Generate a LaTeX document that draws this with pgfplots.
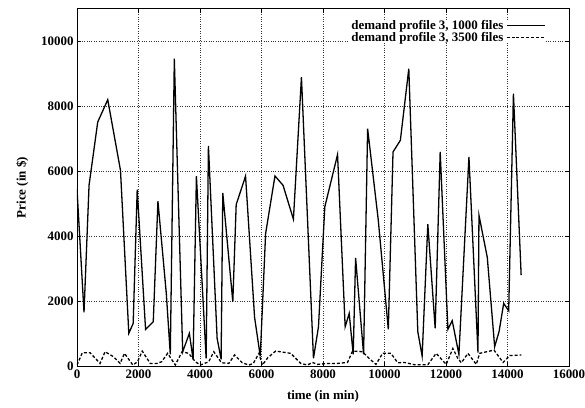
\documentclass[border=0pt]{standalone}
\usepackage{fontspec}
\setmainfont{Liberation Serif}
\usepackage{pgfplots}
\pgfplotsset{compat=1.18}
\begin{document}
\begin{tikzpicture}
\begin{axis}[
  scale only axis,
  width=492bp, height=357bp,
  xmin=0, xmax=16000, ymin=0, ymax=11000,
  xtick={0,2000,...,16000}, ytick={0,2000,...,10000},
  /pgf/number format/assume math mode=true,
  /pgf/number format/1000 sep={},
  scaled ticks=false,
  tick label style={font=\fontsize{13}{14}\selectfont\bfseries},
  label style={font=\fontsize{13}{14}\selectfont\bfseries},
  xlabel={time (in min)}, ylabel={Price (in \$)},
  xlabel style={yshift=-5bp},
  ylabel style={yshift=6bp},
  grid=major,
  major grid style={black!80, dotted, line width=0.5pt},
  axis line style={line width=1pt},
  tick style={black, line width=0.6pt},
  legend style={draw=none, fill=white, at={(0.952,0.969)}, anchor=north east,
    font=\fontsize{13}{14}\selectfont\bfseries, inner sep=0pt, row sep=1.4pt,
    nodes={inner ysep=0pt, inner xsep=2.5pt}},
  legend cell align=right,
  legend plot pos=right,
  legend image code/.code={\draw[#1] (0cm,0cm) -- (38bp,0cm);},
]
\addplot[black, line width=1.3pt] coordinates {
(0,5450) (228,1650) (392,5570) (674,7517) (1000,8205) (1414,6030) (1685,1005) (1827,1313)
(1958,5436) (2230,1128) (2480,1364) (2632,5077) (2904,2236) (3034,359) (3165,9467)
(3437,441) (3654,1005) (3775,205) (3883,5846) (4200,236) (4274,6779) (4557,851)
(4687,205) (4741,5333) (5067,1979) (5177,4974) (5481,5850) (5775,1500) (5960,300)
(6134,4082) (6438,5856) (6700,5569) (7038,4523) (7299,8902) (7690,236) (7853,1210)
(8059,4903) (8473,6513) (8721,1210) (8852,1620) (8982,359) (9060,3333) (9320,359)
(9451,7313) (9798,4492) (10124,1128) (10277,6595) (10516,6954) (10790,9159) (11083,1056)
(11224,308) (11409,4369) (11648,1159) (11811,6595) (12062,1128) (12202,1395) (12420,359)
(12746,6441) (13040,410) (13072,4646) (13343,3344) (13582,595) (13725,1056) (13876,1928)
(14039,1702) (14193,8390) (14444,2800)
};
\addlegendentry{demand profile 3, 1000 files}
\addplot[black, line width=1.3pt, dash pattern=on 3pt off 2pt] coordinates {
(0,30) (174,410) (424,410) (750,80) (913,440) (1185,287) (1403,80) (1544,390) (1816,30)
(1968,130) (2121,460) (2382,80) (2600,80) (2750,130) (2947,390) (3197,30) (3415,440)
(3632,390) (3850,130) (4013,30) (4284,130) (4448,440) (4699,100) (4938,80) (5124,340)
(5374,100) (5591,30) (5733,80) (5917,390) (6026,30) (6200,250) (6460,460) (6949,390)
(7276,80) (7493,30) (7656,110) (7819,50) (8145,80) (8471,80) (8798,110) (8961,460)
(9287,440) (9504,230) (9722,50) (9939,390) (10211,390) (10428,100) (10646,110)
(10973,40) (11408,40) (11680,390) (12006,50) (12223,540) (12386,230) (12500,100)
(12713,390) (12985,50) (13094,390) (13562,490) (13856,110) (14073,320) (14454,340)
};
\addlegendentry{demand profile 3, 3500 files}
\coordinate (ll) at (rel axis cs:0,0);
\coordinate (ur) at (rel axis cs:1,1);
\end{axis}
\pgfresetboundingbox
\path ([shift={(-77bp,-42bp)}]ll) rectangle ([shift={(16bp,9bp)}]ur);
\end{tikzpicture}
\end{document}
